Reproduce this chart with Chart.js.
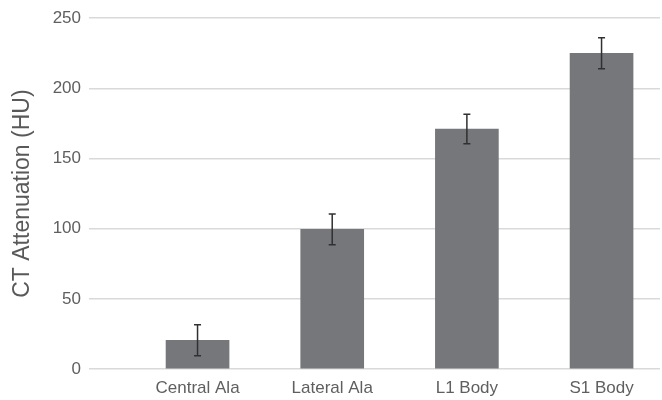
<!DOCTYPE html>
<html>
<head>
<meta charset="utf-8">
<script src="https://cdn.jsdelivr.net/npm/chart.js@4/dist/chart.umd.min.js"></script>
<style>
  html, body { margin: 0; padding: 0; background: #fff; }
  #wrap { width: 662px; height: 400px; }
</style>
</head>
<body>
<div id="wrap"><canvas id="grafico"></canvas></div>
<script>
// Datos del gráfico
const categorias = ['Central Ala', 'Lateral Ala', 'L1 Body', 'S1 Body'];
const valores = [20.5, 99.5, 171, 225];
const errores = [11, 11, 10.5, 11];
const ticksY = [0, 50, 100, 150, 200, 250];

// Plugin: barras de error
const barrasError = {
  id: 'barrasError',
  afterDatasetsDraw(chart) {
    const ctx = chart.ctx;
    const meta = chart.getDatasetMeta(0);
    const y = chart.scales.y;
    ctx.save();
    ctx.strokeStyle = '#303030';
    ctx.lineWidth = 1.5;
    meta.data.forEach(function (bar, i) {
      const arriba = y.getPixelForValue(valores[i] + errores[i]);
      const abajo = y.getPixelForValue(valores[i] - errores[i]);
      ctx.beginPath();
      ctx.moveTo(bar.x, arriba);
      ctx.lineTo(bar.x, abajo);
      ctx.moveTo(bar.x - 3.5, arriba);
      ctx.lineTo(bar.x + 3.5, arriba);
      ctx.moveTo(bar.x - 3.5, abajo);
      ctx.lineTo(bar.x + 3.5, abajo);
      ctx.stroke();
    });
    ctx.restore();
  }
};

const ctx = document.getElementById('grafico').getContext('2d');
new Chart(ctx, {
  type: 'bar',
  data: {
    datasets: [{
      data: valores.map((v, i) => ({ x: i, y: v })),
      backgroundColor: '#76777b',
      barThickness: 63
    }]
  },
  options: {
    responsive: true,
    maintainAspectRatio: false,
    animation: false,
    layout: { padding: { top: 16, right: 2, left: 0, bottom: 0 } },
    plugins: {
      legend: { display: false },
      tooltip: { enabled: false }
    },
    scales: {
      x: {
        type: 'linear',
        offset: false,
        min: -0.806,
        max: 3.434,
        grid: { display: false, drawTicks: false, offset: false },
        border: { display: false },
        afterFit: function (scale) { scale.height = 31; },
        afterBuildTicks: function (scale) {
          scale.ticks = categorias.map((c, i) => ({ value: i }));
        },
        ticks: {
          autoSkip: false,
          maxRotation: 0,
          padding: 9,
          color: '#5f5f5f',
          font: { family: 'Liberation Sans, Arial, sans-serif', size: 17 },
          callback: function (v) {
            return categorias[v] || '';
          }
        }
      },
      y: {
        min: 0,
        max: 250,
        afterFit: function (scale) { scale.width = 89; },
        afterBuildTicks: function (scale) {
          scale.ticks = ticksY.map(v => ({ value: v }));
        },
        grid: { color: '#d9d9d9', lineWidth: 1.5, drawTicks: false },
        border: { display: false },
        ticks: {
          padding: 8,
          color: '#5f5f5f',
          font: { family: 'Liberation Sans, Arial, sans-serif', size: 17 }
        },
        title: {
          display: true,
          text: 'CT Attenuation (HU)',
          color: '#595959',
          padding: { top: 9, bottom: 0 },
          font: { family: 'Liberation Sans, Arial, sans-serif', size: 23 }
        }
      }
    }
  },
  plugins: [barrasError]
});
</script>
</body>
</html>
